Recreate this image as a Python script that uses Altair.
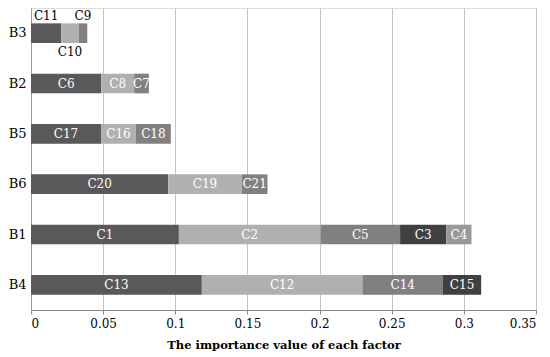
import altair as alt
import pandas as pd

groups = ["B3", "B3", "B3", "B2", "B2", "B2", "B5", "B5", "B5", "B6", "B6", "B6",
          "B1", "B1", "B1", "B1", "B1", "B4", "B4", "B4", "B4"]
factors = ["C11", "C10", "C9", "C6", "C8", "C7", "C17", "C16", "C18", "C20", "C19", "C21",
           "C1", "C2", "C5", "C3", "C4", "C13", "C12", "C14", "C15"]
values = [0.021, 0.012, 0.006, 0.0487, 0.0228, 0.0102, 0.0485, 0.0242, 0.0242,
          0.0951, 0.051, 0.0178, 0.1025, 0.0982, 0.0551, 0.032, 0.0175,
          0.1184, 0.1113, 0.0558, 0.0265]
positions = [1, 2, 3, 1, 2, 3, 1, 2, 3, 1, 2, 3, 1, 2, 3, 4, 5, 1, 2, 3, 4]
label_place = ["above", "below", "above"] + ["in"] * 18
row_order = ["B3", "B2", "B5", "B6", "B1", "B4"]
pos_colors = ["#595959", "#b0b0b0", "#808080", "#404040", "#999999"]

df = pd.DataFrame({"group": groups, "factor": factors, "value": values,
                   "pos": positions, "place": label_place})

FONT = "DejaVu Serif"

base = alt.Chart(df).transform_stack(
    stack="value", groupby=["group"], sort=[{"field": "pos", "order": "ascending"}],
    as_=["x0", "x1"]
).transform_calculate(mid="(datum.x0 + datum.x1) / 2")

y_enc = alt.Y("group:N", sort=row_order, title=None,
              scale=alt.Scale(paddingInner=0.61, paddingOuter=0.305),
              axis=alt.Axis(ticks=False, labelPadding=5, labelFont=FONT, labelFontSize=13,
                            labelColor="#000000", domainColor="#9a9a9a", grid=False))

bars = base.mark_bar().encode(
    x=alt.X("x0:Q", title="The importance value of each factor",
            scale=alt.Scale(domain=[0, 0.35], nice=False),
            axis=alt.Axis(values=[0, 0.05, 0.1, 0.15, 0.2, 0.25, 0.3, 0.35], format="~g",
                          grid=True, gridColor="#c4c4c4", domainColor="#868686",
                          tickColor="#868686", tickSize=4, labelPadding=4,
                          labelFont=FONT, labelFontSize=12, labelColor="#000000",
                          titleFont=FONT, titleFontSize=11.5, titleFontWeight="bold",
                          titleColor="#000000", titlePadding=10)),
    x2="x1:Q",
    y=y_enc,
    color=alt.Color("pos:O", scale=alt.Scale(domain=[1, 2, 3, 4, 5], range=pos_colors), legend=None),
)

inside = base.transform_filter(alt.datum.place == "in").mark_text(
    color="white", font=FONT, fontSize=12, baseline="middle", align="center"
).encode(x="mid:Q", y=alt.Y("group:N", sort=row_order), text="factor:N")

above = base.transform_filter(alt.datum.place == "above").mark_text(
    color="black", font=FONT, fontSize=12, baseline="middle", align="center", dy=-17
).encode(x="mid:Q", y=alt.Y("group:N", sort=row_order), text="factor:N")

below = base.transform_filter(alt.datum.place == "below").mark_text(
    color="black", font=FONT, fontSize=12, baseline="middle", align="center", dy=19
).encode(x="mid:Q", y=alt.Y("group:N", sort=row_order), text="factor:N")

chart = alt.layer(bars, inside, above, below).properties(
    width=505, height=302, padding={"left": 0, "top": 0, "right": 5, "bottom": 0}
).configure_view(stroke="#868686", strokeWidth=1).configure(background="white")

chart.save("out.html", embed_options={"renderer": "svg", "actions": False})
